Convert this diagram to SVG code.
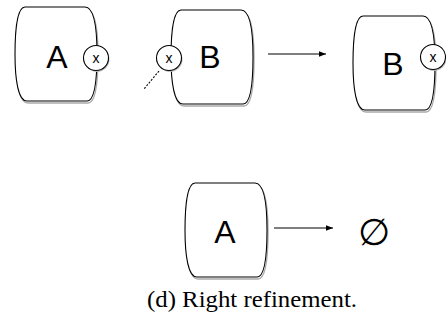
<svg xmlns="http://www.w3.org/2000/svg" width="446" height="320" viewBox="0 0 446 320">
<defs>
<style>
.box{fill:#fff;stroke:#000;stroke-width:1.1}
.shadow{fill:none;stroke:#aaa;stroke-width:1.4}
.port{fill:#fff;stroke:#000;stroke-width:1.1}
.psh{fill:#bbb}
.lbl{font-family:"Liberation Sans",Arial,sans-serif;font-size:32px;text-anchor:middle;fill:#000}
.px{font-family:"Liberation Sans",Arial,sans-serif;font-size:14px;text-anchor:middle;fill:#000}
.edge{stroke:#000;stroke-width:1.1;fill:none}
</style>
<path id="shape" d="M 10,0 L 70,0 C 80,0 82,24 82,47 C 82,72 80,94 72,94 L 12,94 C 3,94 0,72 0,47 C 0,24 2,0 10,0 Z"/>
<marker id="ah" viewBox="0 0 10 10" refX="10" refY="5" markerWidth="7" markerHeight="7" markerUnits="userSpaceOnUse" orient="auto">
<path d="M0,1 L10,5 L0,9 Z" fill="#000"/>
</marker>
</defs>
<rect width="446" height="320" fill="#fff"/>
<g id="nodeA1">
<use href="#shape" class="shadow" x="16" y="9"/>
<use href="#shape" class="box" x="15" y="7"/>
<text class="lbl" x="57" y="68">A</text>
<circle class="psh" cx="97" cy="59.5" r="12.5"/>
<circle class="port" cx="96" cy="58" r="12.5"/>
<text class="px" x="96" y="63">x</text>
</g>
<g id="nodeB1">
<use href="#shape" class="shadow" x="172" y="12"/>
<use href="#shape" class="box" x="171" y="10"/>
<text class="lbl" x="210" y="68">B</text>
<circle class="psh" cx="170" cy="59.5" r="12.5"/>
<circle class="port" cx="169" cy="58" r="12.5"/>
<text class="px" x="169" y="63">x</text>
</g>
<g id="nodeB2">
<use href="#shape" class="shadow" x="354" y="18"/>
<use href="#shape" class="box" x="353" y="16"/>
<text class="lbl" x="393" y="75">B</text>
<circle class="psh" cx="434" cy="58.5" r="12.5"/>
<circle class="port" cx="433" cy="57" r="12.5"/>
<text class="px" x="433" y="62">x</text>
</g>
<g id="nodeA2">
<use href="#shape" class="shadow" x="186" y="185"/>
<use href="#shape" class="box" x="185" y="183"/>
<text class="lbl" x="225" y="243">A</text>
</g>
<g id="empty">
<text x="374" y="245" font-family="'DejaVu Sans',sans-serif" font-size="37" text-anchor="middle">∅</text>
</g>
<g id="connectors">
<line class="edge" x1="159" y1="71" x2="144" y2="89" stroke-dasharray="2,1.5"/>
<line class="edge" x1="268" y1="54" x2="326" y2="54" marker-end="url(#ah)"/>
<line class="edge" x1="274" y1="228" x2="333" y2="228" marker-end="url(#ah)"/>
</g>
<text x="147" y="307" font-family="'Liberation Serif','Times New Roman',serif" font-size="23" textLength="210" lengthAdjust="spacingAndGlyphs">(d) Right refinement.</text>
</svg>
